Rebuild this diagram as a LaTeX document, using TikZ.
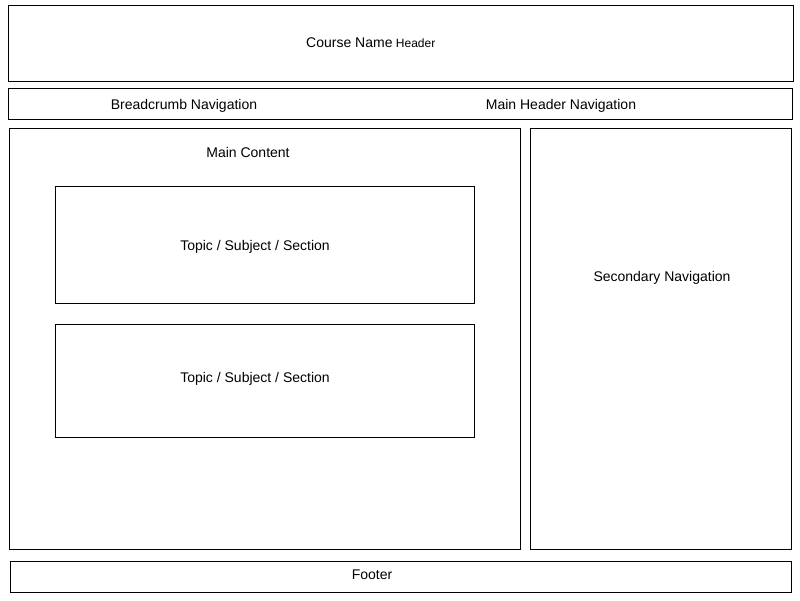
\documentclass[tikz,border=0pt]{standalone}
\usepackage{fontspec}
\setmainfont{Liberation Sans}
\usetikzlibrary{positioning}
\begin{document}
\begin{tikzpicture}[
	x=1pt, y=-1pt,
	box/.style={draw, line width=1pt, rectangle, anchor=north west,
		inner sep=+0pt, outer sep=+0pt},
	lbl/.style={font=\fontsize{14}{16}\selectfont, inner sep=+0pt, anchor=base},
	small/.style={font=\fontsize{12}{14}\selectfont, inner sep=+0pt}
]
\useasboundingbox (0,0) rectangle (800,600);
% page regions
\node[box, minimum width=785pt, minimum height=76pt] (head) at (8,5) {};
\node[box, minimum width=784pt, minimum height=31pt] (nav) at (8,88) {};
\node[box, minimum width=511pt, minimum height=421pt] (main) at (9,128) {};
\node[box, minimum width=261pt, minimum height=421pt] (secnav) at (530,128) {};
\node[box, minimum width=781pt, minimum height=31pt] (foot) at (10,561) {};
% sections inside the main content
\node[box, minimum width=419pt, minimum height=117pt] (topicA) at (55,186) {};
\node[box, minimum width=419pt, minimum height=113pt] (topicB) at (55,324) {};
% labels
\node[lbl, anchor=base west] (course) at (306,47) {Course Name};
\node[small, right=3pt of course.base east, anchor=base west] (headtxt) {Header};
\node[lbl] (crumb) at (184,109) {Breadcrumb Navigation};
\node[lbl] (mainnav) at (561,109) {Main Header Navigation};
\node[lbl] (maintxt) at (248,157) {Main Content};
\node[lbl] (topicAtxt) at (255,250) {Topic / Subject / Section};
\node[lbl] (topicBtxt) at (255,382) {Topic / Subject / Section};
\node[lbl] (secnavtxt) at (662,281) {Secondary Navigation};
\node[lbl] (foottxt) at (372,579) {Footer};
\end{tikzpicture}
\end{document}
